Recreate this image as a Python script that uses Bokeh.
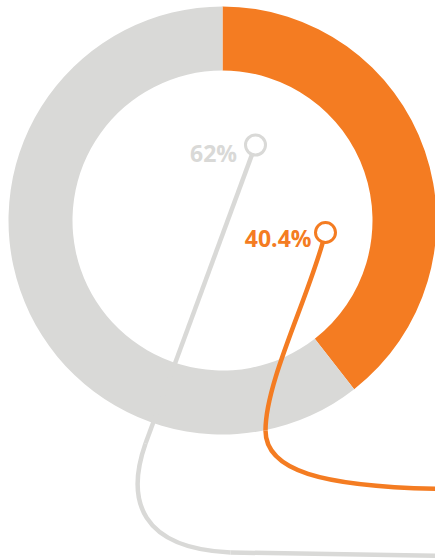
import math
from bokeh.plotting import figure
from bokeh.models import Range1d
from bokeh.core.properties import value
from bokeh.embed import file_html
from bokeh.resources import INLINE

# ---- data ----
categories = ["Orange", "Grey"]
values = [40.4, 62.0]
labels = ["40.4%", "62%"]
colors = ["#F47C22", "#D9D9D7"]

# ---- layout (reference pixel space, y downwards) ----
CX, CY = 222, 220
R_IN, R_OUT = 150, 214
label_circles = {"Orange": (325, 232), "Grey": (255, 144.5)}
label_text_pos = {"Orange": (311, 237.5), "Grey": (236.5, 152)}

W, H = 435, 559
LW = 4.5

def Y(v):
    return -v

p = figure(width=W, height=H, x_range=Range1d(0, W), y_range=Range1d(-H, 0),
           output_backend="svg", toolbar_location=None, min_border=0)
p.axis.visible = False
p.grid.visible = False
p.outline_line_color = None
p.background_fill_color = "white"
p.border_fill_color = "white"

total = sum(values)
cum = 0.0
starts, ends = [], []
for v in values:
    starts.append(math.pi / 2 - cum / total * 2 * math.pi)
    cum += v
    ends.append(math.pi / 2 - cum / total * 2 * math.pi)

p.annular_wedge(x=[CX] * len(values), y=[Y(CY)] * len(values), inner_radius=R_IN, outer_radius=R_OUT,
                start_angle=starts, end_angle=ends, direction="clock",
                fill_color=colors, line_color=None)

# leader lines
gcx, gcy = label_circles["Grey"]
p.line(x=[gcx, 145], y=[Y(gcy), Y(443)], line_color=colors[1], line_width=LW)
p.bezier(x0=[145], y0=[Y(443)], x1=[230], y1=[Y(552)], cx0=[125], cy0=[Y(500)], cx1=[140], cy1=[Y(548)],
         line_color=colors[1], line_width=LW)
p.line(x=[230, 440], y=[Y(552), Y(555.3)], line_color=colors[1], line_width=LW)

ocx, ocy = label_circles["Orange"]
p.bezier(x0=[ocx], y0=[Y(ocy)], x1=[265], y1=[Y(430)], cx0=[310], cy0=[Y(293)], cx1=[265], cy1=[Y(380)],
         line_color=colors[0], line_width=LW)
p.bezier(x0=[265], y0=[Y(430)], x1=[440], y1=[Y(488.5)], cx0=[265], cy0=[Y(470)], cx1=[320], cy1=[Y(486)],
         line_color=colors[0], line_width=LW)

for cat, lab, col in zip(categories, labels, colors):
    cx, cy = label_circles[cat]
    p.scatter(x=[cx], y=[Y(cy)], size=20, marker="circle", fill_color="white",
              line_color=col, line_width=3)
    tx, ty = label_text_pos[cat]
    p.text(x=[tx], y=[Y(ty)], text=[lab], text_color=col, text_font=value("Open Sans"),
           text_font_style="bold", text_font_size="23px", text_align="right",
           text_baseline="alphabetic")

open("out.html", "w").write(file_html(p, INLINE))
